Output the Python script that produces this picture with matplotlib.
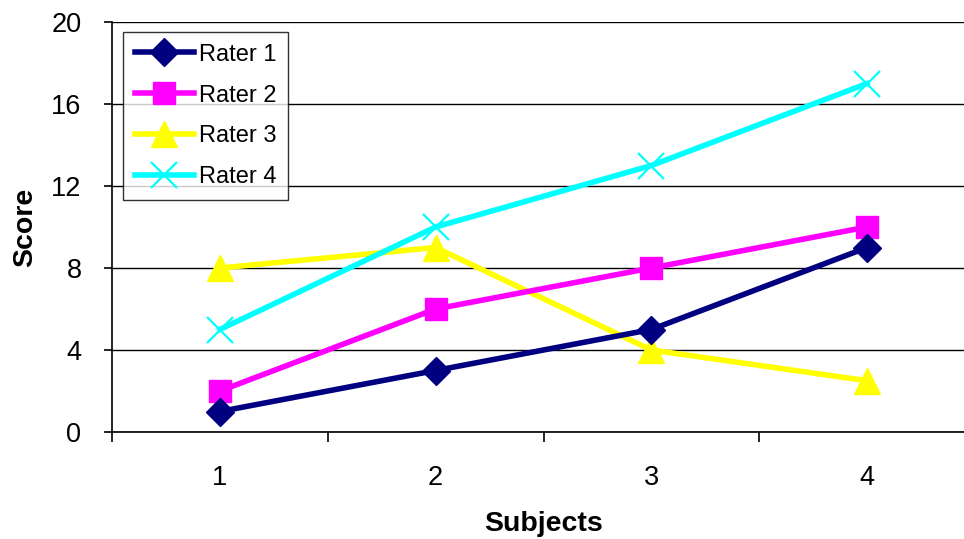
import matplotlib.pyplot as plt
import numpy as np

plt.rcParams['font.family'] = ['Liberation Sans', 'DejaVu Sans']

subjects = [1, 2, 3, 4]
rater1 = [1, 3, 5, 9]
rater2 = [2, 6, 8, 10]
rater3 = [8, 9, 4, 2.5]
rater4 = [5, 10, 13, 17]

fig = plt.figure(figsize=(9.64, 5.39), dpi=100)
ax = fig.add_axes([112 / 964, 107 / 539, 863 / 964, 410 / 539])

ax.plot(subjects, rater1, color='#000080', lw=4, marker='D', ms=14,
        label='Rater 1', clip_on=False, zorder=5)
ax.plot(subjects, rater2, color='#ff00ff', lw=4, marker='s', ms=16.5,
        label='Rater 2', clip_on=False, zorder=4)
ax.plot(subjects, rater3, color='#ffff00', lw=4, marker='^', ms=19,
        label='Rater 3', clip_on=False, zorder=3)
ax.plot(subjects, rater4, color='#00ffff', lw=4, marker='x', ms=19, mew=1.6,
        label='Rater 4', clip_on=False, zorder=6)

ax.set_xlim(0.5, 4.5)
ax.set_ylim(0, 20)
ax.set_yticks(np.arange(0, 21, 4))
ax.set_xticks(subjects)
ax.set_xticks([0.5, 1.5, 2.5, 3.5, 4.5], minor=True)
ax.tick_params(axis='x', which='major', length=0, pad=24, labelsize=19.5)
ax.tick_params(axis='x', which='minor', length=7, width=1.2, direction='out')
ax.tick_params(axis='y', length=6, width=1.2, pad=16, labelsize=19.5)
ax.yaxis.grid(True, color='black', lw=1)
ax.set_axisbelow(True)

for side in ['top', 'right']:
    ax.spines[side].set_visible(False)
ax.spines['left'].set_linewidth(1.2)
ax.spines['bottom'].set_linewidth(1.2)

ax.set_xlabel('Subjects', fontsize=20.5, fontweight='bold', labelpad=14)
ax.set_ylabel('Score', fontsize=20.5, fontweight='bold', labelpad=9)

leg = ax.legend(loc='upper left', bbox_to_anchor=(0.0127, 0.976), fontsize=17,
                frameon=True, fancybox=False, edgecolor='black',
                handlelength=2.5, handletextpad=0.2, labelspacing=0.8,
                borderpad=0.5, borderaxespad=0)
leg.get_frame().set_linewidth(1)

fig.savefig('out.png', dpi=100)
